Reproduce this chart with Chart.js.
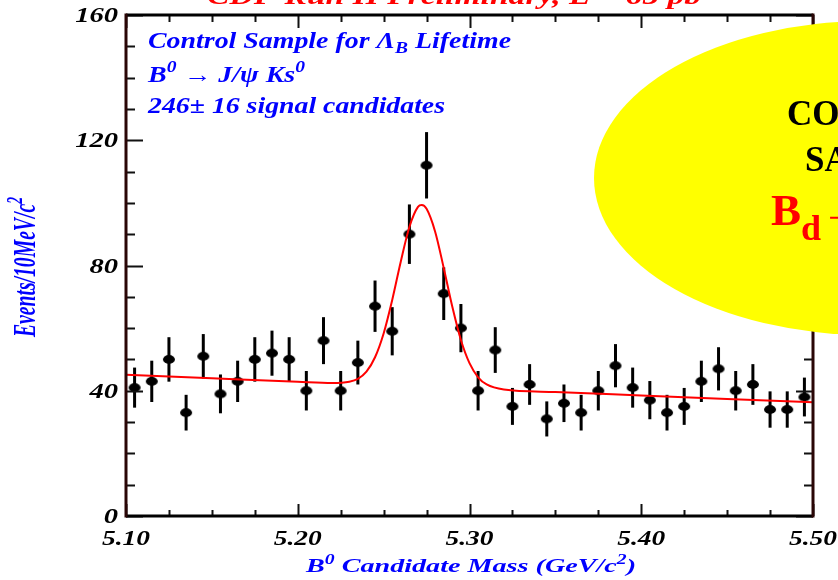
<!DOCTYPE html>
<html>
<head>
<meta charset="utf-8">
<script src="https://cdn.jsdelivr.net/npm/chart.js@4.4.1/dist/chart.umd.min.js"></script>
<style>
  html, body { margin: 0; padding: 0; background: #ffffff; }
  #wrap { width: 838px; height: 580px; position: relative; }
</style>
</head>
<body>
<div id="wrap"><canvas id="massPlot" width="838" height="580"></canvas></div>
<script>
// B0 -> J/psi Ks candidates, 10 MeV/c^2 bins (bin centres in GeV/c^2)
const massBins = [
  5.105, 5.115, 5.125, 5.135, 5.145, 5.155, 5.165, 5.175, 5.185, 5.195,
  5.205, 5.215, 5.225, 5.235, 5.245, 5.255, 5.265, 5.275, 5.285, 5.295,
  5.305, 5.315, 5.325, 5.335, 5.345, 5.355, 5.365, 5.375, 5.385, 5.395,
  5.405, 5.415, 5.425, 5.435, 5.445, 5.455, 5.465, 5.475, 5.485, 5.495
];
const events = [
  41, 43, 50, 33, 51, 39, 43, 50, 52, 50,
  40, 56, 40, 49, 67, 59, 90, 112, 71, 60,
  40, 53, 35, 42, 31, 36, 33, 40, 48, 41,
  37, 33, 35, 43, 47, 40, 42, 34, 34, 38
];
const eventErrors = [
  6.4, 6.6, 7.1, 5.7, 7.1, 6.2, 6.6, 7.1, 7.2, 7.1,
  6.3, 7.5, 6.3, 7.0, 8.2, 7.7, 9.5, 10.6, 8.4, 7.7,
  6.3, 7.3, 5.9, 6.5, 5.6, 6.0, 5.7, 6.3, 6.9, 6.4,
  6.1, 5.7, 5.9, 6.6, 6.9, 6.3, 6.5, 5.8, 5.8, 6.2
];

// Fit: gaussian signal on a linear background
const fitMass = [
  5.10, 5.15, 5.20, 5.22, 5.23, 5.235, 5.24, 5.245, 5.25, 5.255, 5.26, 5.265,
  5.27, 5.2722, 5.275, 5.28, 5.285, 5.29, 5.295, 5.30, 5.305, 5.31, 5.32,
  5.35, 5.40, 5.45, 5.50
];
const fitEvents = [
  45.1, 44.0, 42.9, 42.5, 42.9, 43.8, 46.1, 50.7, 58.3, 69.0, 81.3, 92.3,
  98.7, 99.3, 98.1, 90.8, 79.2, 66.8, 56.2, 48.8, 44.3, 42.0, 40.4,
  39.6, 38.5, 37.4, 36.3
];

const massTickLabels = ['5.10', '5.20', '5.30', '5.40', '5.50'];
const eventTickLabels = ['0', '40', '80', '120', '160'];

const SERIF = '"Liberation Serif", "Times New Roman", Times, serif';

// Draws a run of text pieces ('' / 'sup' / 'sub'), optionally squeezed or
// stretched horizontally to a given width.
function drawRich(ctx, parts, o) {
  const style = (o.italic ? 'italic ' : '') + (o.bold === false ? '' : 'bold ');
  const fontFor = k => style + (k ? (o.scriptSize || o.size * 0.7) : o.size) + 'px ' + SERIF;
  let natural = 0;
  const widths = parts.map(([t, k]) => {
    ctx.font = fontFor(k);
    const w = ctx.measureText(t).width;
    natural += w;
    return w;
  });
  const sx = o.width ? o.width / natural : (o.sx || 1);
  const total = natural * sx;
  const start = o.align === 'center' ? -total / 2 : (o.align === 'right' ? -total : 0);
  ctx.save();
  ctx.translate(o.x, o.y);
  if (o.rotate) ctx.rotate(o.rotate);
  ctx.translate(start, 0);
  ctx.scale(sx, 1);
  ctx.fillStyle = o.color;
  ctx.textAlign = 'left';
  ctx.textBaseline = 'alphabetic';
  let cx = 0;
  parts.forEach(([t, k], i) => {
    ctx.font = fontFor(k);
    let dy = 0;
    if (k === 'sup') dy = -o.size * (o.supShift || 0.42);
    if (k === 'sub') dy = o.size * (o.subShift || 0.22);
    ctx.fillText(t, cx, dy);
    cx += widths[i];
  });
  ctx.restore();
}

// Oval marker used for the data points
const marker = document.createElement('canvas');
marker.width = 14; marker.height = 11;
(function () {
  const m = marker.getContext('2d');
  m.fillStyle = '#000000';
  m.beginPath();
  m.ellipse(7, 5.5, 6, 4.4, 0, 0, Math.PI * 2);
  m.fill();
})();

// Vertical error bars on each bin
const errorBars = {
  id: 'errorBars',
  beforeDatasetsDraw(chart) {
    const { ctx, scales: { x, y } } = chart;
    ctx.save();
    ctx.strokeStyle = '#000000';
    ctx.lineWidth = 3;
    massBins.forEach((m, i) => {
      const px = x.getPixelForValue(m);
      ctx.beginPath();
      ctx.moveTo(px, y.getPixelForValue(events[i] - eventErrors[i]));
      ctx.lineTo(px, y.getPixelForValue(events[i] + eventErrors[i]));
      ctx.stroke();
    });
    ctx.restore();
  }
};

// Frame with inward ticks, tick labels and all annotation text
const frameAndText = {
  id: 'frameAndText',
  afterDraw(chart) {
    const { ctx, chartArea: a, scales: { x, y } } = chart;
    ctx.save();
    ctx.lineCap = 'butt';

    // inward ticks
    ctx.strokeStyle = '#111111';
    ctx.lineWidth = 2;
    for (let v = 5.10; v <= 5.5001; v += 0.025) {
      const px = Math.round(x.getPixelForValue(v)) + 0.5;
      const major = Math.abs(v * 10 - Math.round(v * 10)) < 1e-6;
      ctx.beginPath();
      ctx.moveTo(px, a.bottom); ctx.lineTo(px, a.bottom - (major ? 12 : 6));
      ctx.moveTo(px, a.top); ctx.lineTo(px, a.top + (major ? 13 : 7));
      ctx.stroke();
    }
    for (let v = 0; v <= 160; v += 10) {
      const py = Math.round(y.getPixelForValue(v)) + 0.5;
      const major = v % 40 === 0;
      ctx.beginPath();
      ctx.moveTo(a.left, py); ctx.lineTo(a.left + (major ? 17 : 9), py);
      ctx.moveTo(a.right, py); ctx.lineTo(a.right - (major ? 17 : 9), py);
      ctx.stroke();
    }

    // frame
    ctx.lineWidth = 3;
    ctx.strokeStyle = '#000000';
    ctx.beginPath();
    ctx.moveTo(a.left, a.top); ctx.lineTo(a.right, a.top);
    ctx.moveTo(a.left, a.bottom); ctx.lineTo(a.right, a.bottom);
    ctx.stroke();
    ctx.strokeStyle = '#2a0606';
    ctx.beginPath();
    ctx.moveTo(a.left, a.top - 1.5); ctx.lineTo(a.left, a.bottom + 1.5);
    ctx.moveTo(a.right, a.top - 1.5); ctx.lineTo(a.right, a.bottom + 1.5);
    ctx.stroke();
    ctx.restore();

    // tick labels
    massTickLabels.forEach(t => {
      drawRich(ctx, [[t, '']], { x: x.getPixelForValue(Number(t)), y: 545, size: 21, width: 48,
        italic: true, color: '#000000', align: 'center' });
    });
    eventTickLabels.forEach(t => {
      drawRich(ctx, [[t, '']], { x: 118, y: y.getPixelForValue(Number(t)) + 7, size: 21, sx: 1.36,
        italic: true, color: '#000000', align: 'right' });
    });

    // axis titles
    drawRich(ctx, [['B', ''], ['0', 'sup'], [' Candidate Mass (GeV/c', ''], ['2', 'sup'], [')', '']],
      { x: 306, y: 572, size: 19.5, width: 330, italic: true, color: '#0000ff' });
    drawRich(ctx, [['Events/10MeV/c', ''], ['2', 'sup']],
      { x: 35, y: 337, size: 32, width: 140, italic: true, color: '#0000ff', rotate: -Math.PI / 2 });

    // run label at the top
    drawRich(ctx, [['CDF Run II Preliminary, L = 65 pb', ''], ['\u22121', 'sup']],
      { x: 207, y: 3.5, size: 26, width: 520, italic: true, color: '#ff0000' });

    // sample description
    const blue = '#0000ff';
    drawRich(ctx, [['Control Sample for \u039B', ''], ['B', 'sub'], [' Lifetime', '']],
      { x: 148, y: 48, size: 23, width: 363, italic: true, color: blue });
    drawRich(ctx, [['B', ''], ['0', 'sup'], [' \u2192 J/\u03C8 Ks', ''], ['0', 'sup']],
      { x: 148, y: 82, size: 23, width: 157, italic: true, color: blue });
    drawRich(ctx, [['246\u00B1 16 signal candidates', '']],
      { x: 148, y: 113, size: 23, width: 297, italic: true, color: blue });

    // yellow call-out
    ctx.save();
    ctx.fillStyle = '#ffff00';
    ctx.beginPath();
    ctx.ellipse(869, 178, 275, 157, 0, 0, Math.PI * 2);
    ctx.fill();
    ctx.restore();
    drawRich(ctx, [['CONTROL', '']], { x: 787, y: 125, size: 35, color: '#000000' });
    drawRich(ctx, [['SAMPLE', '']], { x: 805, y: 171, size: 35, color: '#000000' });
    drawRich(ctx, [['B', ''], ['d', 'sub'], ['\u2192J/\u03C8K', ''], ['s', 'sub']],
      { x: 771, y: 225, size: 45, scriptSize: 36, subShift: 0.33, color: '#ff0000' });
  }
};

new Chart(document.getElementById('massPlot'), {
  type: 'scatter',
  data: {
    datasets: [
      {
        label: 'Fit',
        data: fitMass.map((m, i) => ({ x: m, y: fitEvents[i] })),
        showLine: true,
        borderColor: '#ff0000',
        borderWidth: 2,
        pointRadius: 0,
        cubicInterpolationMode: 'monotone',
        fill: false,
        order: 0
      },
      {
        label: 'Candidates',
        data: massBins.map((m, i) => ({ x: m, y: events[i] })),
        pointStyle: marker,
        pointRadius: 5,
        order: 1
      }
    ]
  },
  options: {
    responsive: false,
    devicePixelRatio: 1,
    animation: false,
    layout: { padding: { left: 126, right: 25, top: 15, bottom: 64 } },
    scales: {
      x: { type: 'linear', min: 5.10, max: 5.50, display: false },
      y: { type: 'linear', min: 0, max: 160, display: false }
    },
    plugins: {
      legend: { display: false },
      tooltip: { enabled: false }
    }
  },
  plugins: [errorBars, frameAndText]
});
</script>
</body>
</html>
